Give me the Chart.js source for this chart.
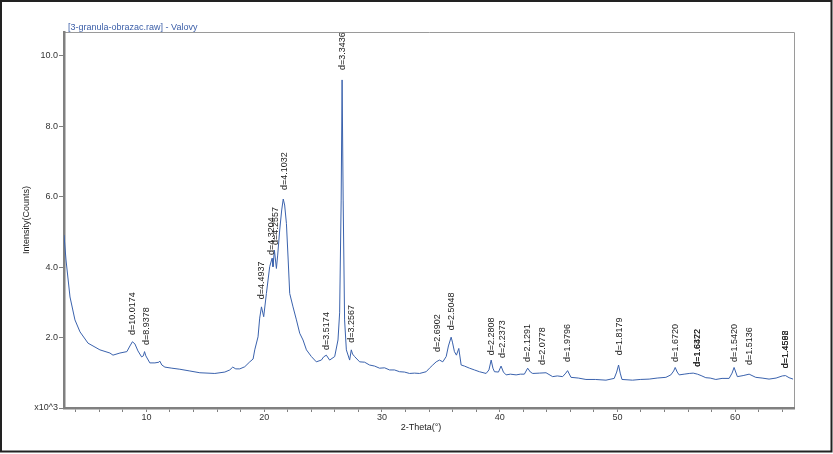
<!DOCTYPE html>
<html>
<head>
<meta charset="utf-8">
<script src="https://cdn.jsdelivr.net/npm/chart.js@4/dist/chart.umd.min.js"></script>
<style>
  body { margin: 0; background: #fff; }
  canvas { display: block; }
</style>
</head>
<body>
<canvas id="xrd" width="833" height="454"></canvas>
<script>
// scan, counts in thousands (axis says x10^3)
var twoTheta = [3.00, 3.17, 3.51, 3.93, 4.36, 5.04, 6.05, 6.90, 7.16, 7.75, 8.34, 8.60, 8.81, 9.02, 9.28, 9.59, 9.74, 9.84, 9.95,
  10.29, 10.72, 11.06, 11.14, 11.31, 11.57, 12.16, 12.84, 13.69, 14.54, 15.81, 16.66, 17.08, 17.33, 17.59, 17.93, 18.35, 18.78,
  19.06, 19.20, 19.48, 19.62, 19.77, 19.96, 20.19, 20.47, 20.67, 20.75, 20.87, 21.04, 21.15, 21.32, 21.49, 21.62, 21.74, 21.89,
  22.04, 22.17, 22.45, 22.74, 23.02, 23.30, 23.59, 24.01, 24.43, 24.86, 25.05, 25.28, 25.56, 25.99, 26.27, 26.41, 26.54, 26.62,
  26.71, 26.83, 26.98, 27.26, 27.40, 27.51, 27.68, 28.11, 28.53, 28.95, 29.38, 29.80, 30.23, 30.65, 31.07, 31.50, 31.92, 32.35,
  32.77, 33.20, 33.76, 34.04, 34.32, 34.61, 34.89, 35.17, 35.46, 35.65, 35.88, 35.99, 36.16, 36.33, 36.53, 36.73, 37.01, 37.44,
  37.86, 38.28, 38.85, 39.09, 39.28, 39.43, 39.56, 39.90, 40.12, 40.32, 40.55, 40.91, 41.40, 41.76, 42.10, 42.38, 42.61, 42.81,
  43.37, 43.94, 44.50, 44.90, 45.35, 45.62, 45.77, 46.06, 46.68, 47.33, 48.12, 49.03, 49.73, 49.94, 50.10, 50.24, 50.39, 51.29,
  51.94, 52.70, 53.38, 54.12, 54.54, 54.78, 54.91, 55.08, 55.25, 55.67, 56.10, 56.44, 56.80, 57.11, 57.51, 57.88, 58.36, 58.89,
  59.49, 59.74, 59.91, 60.19, 60.68, 61.19, 61.75, 62.29, 62.88, 63.48, 64.01, 64.28, 64.58, 64.92];
var counts = [4.91, 4.20, 3.15, 2.50, 2.16, 1.84, 1.65, 1.56, 1.50, 1.56, 1.60, 1.76, 1.88, 1.82, 1.62, 1.45, 1.48, 1.60, 1.48,
  1.28, 1.28, 1.30, 1.33, 1.22, 1.16, 1.13, 1.10, 1.05, 1.00, 0.98, 1.02, 1.08, 1.16, 1.11, 1.11, 1.17, 1.31,
  1.39, 1.65, 2.02, 2.55, 2.87, 2.59, 3.25, 4.01, 4.25, 4.01, 4.48, 3.96, 4.34, 5.05, 5.62, 5.93, 5.76, 5.24,
  4.20, 3.25, 2.87, 2.50, 2.12, 1.93, 1.65, 1.46, 1.31, 1.36, 1.45, 1.50, 1.36, 1.46, 1.93, 2.70, 5.90, 9.31,
  5.90, 2.50, 1.65, 1.36, 1.65, 1.53, 1.46, 1.31, 1.30, 1.22, 1.19, 1.13, 1.14, 1.08, 1.08, 1.03, 1.02, 0.98,
  0.99, 0.98, 1.03, 1.13, 1.22, 1.31, 1.36, 1.31, 1.46, 1.76, 2.01, 1.87, 1.60, 1.50, 1.69, 1.22, 1.19, 1.13,
  1.08, 1.03, 0.98, 1.08, 1.36, 1.13, 1.03, 1.02, 1.19, 1.02, 0.94, 0.96, 0.94, 0.96, 0.96, 1.13, 1.02, 0.98,
  0.99, 1.00, 0.89, 0.91, 0.89, 0.99, 1.06, 0.87, 0.85, 0.81, 0.81, 0.79, 0.84, 1.02, 1.22, 0.99, 0.81, 0.79,
  0.81, 0.82, 0.85, 0.87, 0.94, 1.05, 1.15, 1.02, 0.94, 0.96, 0.98, 0.99, 0.96, 0.92, 0.86, 0.85, 0.81, 0.84,
  0.84, 0.99, 1.15, 0.89, 0.92, 0.96, 0.87, 0.85, 0.82, 0.85, 0.91, 0.92, 0.86, 0.82];

// peak labels: d-spacing text, 2-theta position, height they sit above
var peakLabels = ['d=10.0174', 'd=8.9378', 'd=4.4937', 'd=4.3204', 'd=4.2557', 'd=4.1032', 'd=3.3436', 'd=3.5174',
  'd=3.2567', 'd=2.6902', 'd=2.5048', 'd=2.2808', 'd=2.2373', 'd=2.1291', 'd=2.0778', 'd=1.9796', 'd=1.8179',
  'd=1.6720', 'd=1.6372', 'd=1.6422', 'd=1.5420', 'd=1.5136', 'd=1.4598', 'd=1.4562'];
var peakTheta = [8.81, 10.01, 19.79, 20.64, 20.98, 21.74, 26.66, 25.31, 27.43, 34.75, 35.88, 39.28, 40.26, 42.38,
  43.65, 45.77, 50.16, 54.91, 56.77, 56.84, 59.91, 61.18, 64.28, 64.32];
var peakHeight = [1.87, 1.59, 2.89, 4.14, 4.43, 5.99, 9.39, 1.45, 1.65, 1.39, 2.01, 1.30, 1.22, 1.11, 1.02, 1.11, 1.30,
  1.11, 0.97, 0.97, 1.11, 1.02, 0.93, 0.93];

var xTicks = [];
for (var t = 4; t <= 64; t += 2) xTicks.push(t);
var yTicks = [0, 2, 4, 6, 8, 10];

var FONT = "'Liberation Sans', Arial, sans-serif";

var points = twoTheta.map(function (x, i) { return { x: x, y: counts[i] }; });

var decor = {
  id: 'decor',
  beforeDraw: function (chart) {
    var ctx = chart.ctx, a = chart.chartArea;
    ctx.save();
    ctx.fillStyle = '#fff';
    ctx.fillRect(0, 0, chart.width, chart.height);
    ctx.strokeStyle = '#222';
    ctx.lineWidth = 2;
    ctx.strokeRect(1, 1, 830.5, 450.5);
    ctx.strokeStyle = '#9a9a9a';
    ctx.lineWidth = 1;
    ctx.beginPath();
    ctx.moveTo(a.left, a.top + 0.5);
    ctx.lineTo(a.right + 0.5, a.top + 0.5);
    ctx.lineTo(a.right + 0.5, a.bottom);
    ctx.stroke();
    ctx.fillStyle = '#3b5ea8';
    ctx.font = '9px ' + FONT;
    ctx.textBaseline = 'middle';
    ctx.fillText('[3-granula-obrazac.raw] - Valovy', 68, 27.5);
    ctx.fillStyle = '#222';
    ctx.textAlign = 'center';
    ctx.fillText('2-Theta(°)', 421, 427.5);
    ctx.restore();
  },
  afterDatasetsDraw: function (chart) {
    var ctx = chart.ctx, xs = chart.scales.x, ys = chart.scales.y;
    ctx.save();
    ctx.fillStyle = '#222';
    ctx.font = '9px ' + FONT;
    ctx.textAlign = 'left';
    ctx.textBaseline = 'middle';
    peakLabels.forEach(function (lab, i) {
      var px = xs.getPixelForValue(peakTheta[i]);
      var py = ys.getPixelForValue(peakHeight[i]) - 7;
      ctx.save();
      ctx.translate(px, py);
      ctx.rotate(-Math.PI / 2);
      ctx.fillText(lab, 0, 0);
      ctx.restore();
    });
    ctx.restore();
  }
};

new Chart(document.getElementById('xrd'), {
  type: 'line',
  data: {
    datasets: [{
      data: points,
      borderColor: '#3a62ad',
      borderWidth: 1,
      pointRadius: 0,
      fill: false,
      tension: 0
    }]
  },
  plugins: [decor],
  options: {
    responsive: false,
    animation: false,
    layout: { padding: { top: 32, right: 39, left: 0, bottom: 0 } },
    plugins: { legend: { display: false }, tooltip: { enabled: false } },
    scales: {
      x: {
        type: 'linear',
        min: 3,
        max: 65,
        afterFit: function (s) { s.height = 46; },
        afterBuildTicks: function (s) { s.ticks = xTicks.map(function (v) { return { value: v }; }); },
        ticks: {
          autoSkip: false,
          maxRotation: 0,
          padding: 0,
          color: '#333',
          font: { family: FONT, size: 9 },
          callback: function (v) { return v % 10 === 0 ? String(v) : ''; }
        },
        grid: { drawOnChartArea: false, drawTicks: true, tickLength: 4, color: '#808080' },
        border: { color: '#808080', width: 2.5 }
      },
      y: {
        min: 0,
        max: 10.67,
        afterFit: function (s) { s.width = 64; },
        afterBuildTicks: function (s) { s.ticks = yTicks.map(function (v) { return { value: v }; }); },
        ticks: {
          padding: 1,
          color: '#333',
          font: { family: FONT, size: 9 },
          callback: function (v) { return v === 0 ? 'x10^3' : v.toFixed(1); }
        },
        grid: { drawOnChartArea: false, drawTicks: true, tickLength: 5, color: '#808080' },
        border: { color: '#808080', width: 2.5 },
        title: {
          display: true,
          text: 'Intensity(Counts)',
          color: '#222',
          font: { family: FONT, size: 9 },
          padding: { top: 21, bottom: 0 }
        }
      }
    }
  }
});
</script>
</body>
</html>
